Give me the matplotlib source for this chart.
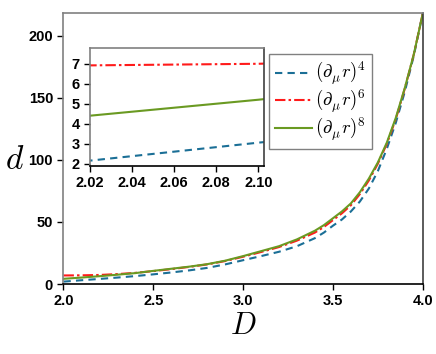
import matplotlib
matplotlib.use("Agg")
import matplotlib.pyplot as plt

plt.rcParams['mathtext.fontset'] = 'cm'
plt.rcParams['font.family'] = ['Liberation Sans Narrow', 'Liberation Sans', 'DejaVu Sans']

# dimension D and operator counts d
D = [2.00, 2.02, 2.06, 2.10, 2.2, 2.3, 2.4, 2.5, 2.6, 2.7, 2.8, 2.9, 3.0,
     3.1, 3.2, 3.3, 3.4, 3.45, 3.5, 3.55, 3.6, 3.65, 3.7, 3.75, 3.8, 3.85,
     3.9, 3.95, 4.0]
d4 = [1.95, 2.15, 2.6, 3.05, 4.1, 5.2, 6.4, 7.8, 9.3, 11.0, 13.0, 15.8, 19.2,
      22.5, 26.0, 30.5, 37.0, 41.5, 47.0, 52.0, 58.5, 66.5, 77.0, 91.0, 109.0, 130.0,
      155.0, 184.0, 218.0]
d6 = [6.9, 6.92, 6.96, 7.0, 7.3, 8.0, 9.0, 10.4, 12.0, 13.8, 15.8, 18.5, 22.0,
      25.8, 29.8, 35.0, 41.5, 46.0, 51.5, 57.0, 63.5, 72.5, 83.5, 97.0, 113.0, 133.0,
      157.5, 185.0, 218.0]
d8 = [4.2, 4.4, 4.8, 5.2, 6.3, 7.5, 8.8, 10.6, 12.3, 14.0, 16.0, 18.8, 22.5,
      26.5, 30.5, 36.0, 43.0, 47.5, 53.0, 58.5, 65.0, 74.0, 85.0, 98.0, 114.0, 134.0,
      158.0, 185.0, 218.0]
labels = [r'$(\partial_\mu r)^4$', r'$(\partial_\mu r)^6$', r'$(\partial_\mu r)^8$']

c4 = '#1b6f96'
c6 = '#ff1a1a'
c8 = '#6a9a22'


def style(ax):
    ax.spines['left'].set_color('#808080')
    ax.spines['top'].set_color('#808080')
    ax.spines['bottom'].set_color('black')
    ax.spines['right'].set_color('#404040')
    for s in ax.spines.values():
        s.set_linewidth(1.2)
    ax.tick_params(direction='out', length=4, width=1, labelsize=10.5)
    for t in ax.get_xticklabels() + ax.get_yticklabels():
        t.set_fontweight('bold')


def draw(ax):
    ax.plot(D, d4, color=c4, ls=(0, (3.5, 2.5)), lw=1.5, label=labels[0])
    ax.plot(D, d6, color=c6, ls=(0, (5, 1.5, 1.2, 1.5)), lw=1.5, label=labels[1])
    ax.plot(D, d8, color=c8, ls='-', lw=1.5, label=labels[2])


fig = plt.figure(figsize=(4.36, 3.54), dpi=100)
ax = fig.add_axes([0.1456, 0.1977, 0.824, 0.7656])
draw(ax)
ax.set_xlim(2.0, 4.0)
ax.set_ylim(0, 218.5)
ax.set_xticks([2.0, 2.5, 3.0, 3.5, 4.0])
ax.set_yticks([0, 50, 100, 150, 200])
ax.set_xticklabels(['2.0', '2.5', '3.0', '3.5', '4.0'])
ax.tick_params(axis='x', pad=3)
style(ax)
ax.set_xlabel(r'$D$', fontsize=22, labelpad=2)
ax.set_ylabel(r'$d$', fontsize=24, rotation=0, va='center', ha='center')
ax.yaxis.set_label_coords(-0.135, 0.455)

leg = ax.legend(loc='upper left', bbox_to_anchor=(0.573, 0.847),
                fontsize=13.5, frameon=True, fancybox=False, handlelength=2.0,
                handletextpad=0.15, borderpad=0.3, labelspacing=0.02, borderaxespad=0)
leg.get_frame().set_edgecolor('#606060')
leg.get_frame().set_linewidth(1.0)

ins = fig.add_axes([0.2064, 0.531, 0.3991, 0.3334])
draw(ins)
ins.set_xlim(2.02, 2.1027)
ins.set_ylim(1.88, 7.79)
ins.set_xticks([2.02, 2.04, 2.06, 2.08, 2.10])
ins.set_xticklabels(['2.02', '2.04', '2.06', '2.08', '2.10'])
ins.set_yticks([2, 3, 4, 5, 6, 7])
style(ins)

fig.savefig('out.png', dpi=100)
